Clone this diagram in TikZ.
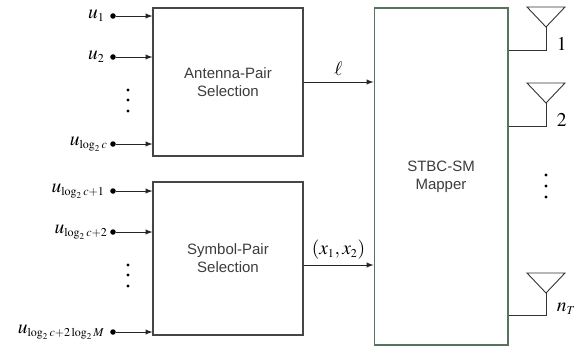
\documentclass[tikz,border=0pt]{standalone}
\usepackage{mathptmx}
\usepackage[no-math]{fontspec}
\setmainfont{Liberation Serif}
\setsansfont{Liberation Sans}
\DeclareMathSizes{13}{13}{8}{6}
\usepackage{tikz}
\usetikzlibrary{arrows.meta, positioning, calc}
\definecolor{boxgray}{RGB}{70,70,70}
\definecolor{mapgreen}{RGB}{85,115,95}
\definecolor{textgray}{RGB}{60,60,60}

\begin{document}
\begin{tikzpicture}[x=0.667pt, y=-0.667pt,
    arrow/.style={-latex, draw=black!85, line width=0.6pt},
    block/.style={draw=boxgray, line width=0.75pt, align=center, font=\sffamily, text=textgray, inner sep=0pt},
    in_dot/.style={circle, fill=black, inner sep=1.3pt},
    ell_dot/.style={circle, fill=black, inner sep=0.8pt},
    sig/.style={font=\fontsize{13}{15}\selectfont},
    ant/.style={draw=black!80, line width=0.6pt}
]
    \useasboundingbox (0,0) rectangle (576,347);

    % Selection blocks
    \node[block, minimum width=100pt, minimum height=98.7pt] (aps) at (228,82) {Antenna-Pair\\Selection};
    \node[block, minimum width=100pt, minimum height=102pt] (sps) at (228,258.5) {Symbol-Pair\\Selection};

    % Mapper block
    \node[block, draw=mapgreen, minimum width=89.3pt, minimum height=224.8pt] (map) at (441,176.5) {STBC-SM\\Mapper};

    % Input bits of the antenna-pair selection
    \node[in_dot] (u1) at (113,16) {};
    \node[in_dot] (u2) at (113,57) {};
    \node[in_dot] (ua) at (113,144) {};
    \node[sig, left=0pt of u1] (u1_lbl) {$u_1$};
    \node[sig, left=0pt of u2] (u2_lbl) {$u_2$};
    \node[sig, left=-2pt of ua] (ua_lbl) {$u_{\log_2 c}$};
    \foreach \y [count=\i] in {90,100,111}
        \node[ell_dot] (dots_a\i) at (128,\y) {};

    % Input bits of the symbol-pair selection
    \node[in_dot] (ub1) at (113,191) {};
    \node[in_dot] (ub2) at (113,232) {};
    \node[in_dot] (ubn) at (113,332) {};
    \node[sig, left=0pt of ub1] (ub1_lbl) {$u_{\log_2 c+1}$};
    \node[sig, left=-2pt of ub2] (ub2_lbl) {$u_{\log_2 c+2}$};
    \node[sig, left=0pt of ubn] (ubn_lbl) {$u_{\log_2 c+2\log_2 M}$};
    \foreach \y [count=\i] in {265,275,286}
        \node[ell_dot] (dots_b\i) at (128,\y) {};

    % Inputs to the blocks
    \foreach \src/\dst in {u1/aps, u2/aps, ua/aps, ub1/sps, ub2/sps, ubn/sps}
        \draw[arrow] (\src) -- (\src -| \dst.west);

    % Block outputs to the mapper
    \coordinate (ell_out) at (aps.east |- 0,82);
    \coordinate (x_out) at (sps.east |- 0,265);
    \draw[arrow] (ell_out) -- (ell_out -| map.west) node[sig, midway, above=1pt] {$\ell$};
    \draw[arrow] (x_out) -- (x_out -| map.west) node[sig, midway, above=0pt] {$(x_1,x_2)$};

    % Transmit antennas
    \foreach \top/\foot/\lbl/\name in {7/50/1/ant1, 83/126/2/ant2, 273/315/n_T/antn} {
        \coordinate (\name) at (546,\top+20);
        \coordinate (\name_foot) at (546,\foot);
        \draw[ant] (546,\top+20) -- (527,\top) -- (565,\top) -- cycle;
        \draw[ant] (map.east |- \name_foot) -- (\name_foot) -- (\name);
        \node[sig, anchor=west, inner sep=1pt] (\name_lbl) at ([xshift=6pt]\name_foot |- 0,\foot-6) {$\lbl$};
    }
    \foreach \y [count=\i] in {175,186,197}
        \node[ell_dot] (dots_ant\i) at (546,\y) {};

\end{tikzpicture}
\end{document}
